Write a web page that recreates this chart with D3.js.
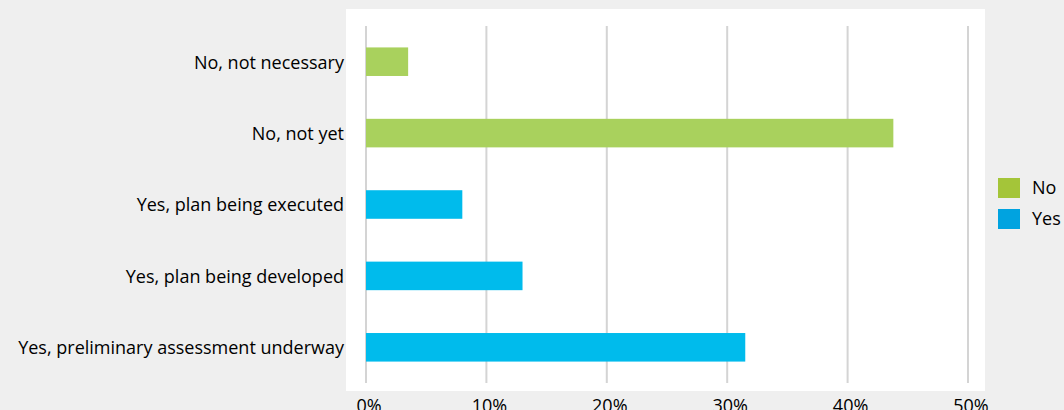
<!DOCTYPE html>
<html>
<head>
<meta charset="utf-8">
<script src="https://cdn.jsdelivr.net/npm/d3@7"></script>
<style>
  html, body { margin: 0; padding: 0; background: #efefef; }
  svg { display: block; }
  text { font-family: "Open Sans", sans-serif; fill: #000; }
</style>
</head>
<body>
<svg id="chart" width="1064" height="410"></svg>
<script>
const categories = [
  "No, not necessary",
  "No, not yet",
  "Yes, plan being executed",
  "Yes, plan being developed",
  "Yes, preliminary assessment underway"
];
const values = [3.5, 43.8, 8.0, 13.0, 31.5];
const groups = ["No", "No", "Yes", "Yes", "Yes"];
const legendLabels = ["No", "Yes"];
const tickValues = [0, 10, 20, 30, 40, 50];

const barColor = { No: "#a9d15d", Yes: "#00bbec" };
const legendColor = { No: "#a4c539", Yes: "#00a3e0" };

const svg = d3.select("#chart");
const W = 1064, H = 410;
const FS = 18;

svg.append("rect").attr("width", W).attr("height", H).attr("fill", "#efefef");
// white plot panel
svg.append("rect").attr("x", 346).attr("y", 9).attr("width", 639).attr("height", 382).attr("fill", "#ffffff");

const x = d3.scaleLinear().domain([0, 50]).range([366, 968]);
const y = d3.scaleBand().domain(categories).range([26, 383]).paddingInner(0.6).paddingOuter(0.3);

// gridlines
svg.append("g").selectAll("line").data(tickValues).join("line")
  .attr("x1", d => x(d)).attr("x2", d => x(d))
  .attr("y1", 26).attr("y2", 383)
  .attr("stroke", "#d4d4d4").attr("stroke-width", 2);

// bars
svg.append("g").selectAll("rect").data(categories).join("rect")
  .attr("x", x(0))
  .attr("y", d => y(d))
  .attr("width", (d, i) => x(values[i]) - x(0))
  .attr("height", y.bandwidth())
  .attr("fill", (d, i) => barColor[groups[i]]);

// category labels
svg.append("g").selectAll("text").data(categories).join("text")
  .attr("x", 344)
  .attr("y", d => y(d) + y.bandwidth() / 2)
  .attr("dy", "0.38em")
  .attr("text-anchor", "end")
  .attr("font-size", FS)
  .text(d => d);

// x tick labels (partly cut by the bottom edge, as in the reference)
svg.append("g").selectAll("text").data(tickValues).join("text")
  .attr("x", d => x(d) + 3)
  .attr("y", 412)
  .attr("text-anchor", "middle")
  .attr("font-size", FS)
  .text(d => d + "%");

// legend
const lg = svg.append("g");
legendLabels.forEach((l, i) => {
  lg.append("rect").attr("x", 998).attr("y", 178 + i * 31).attr("width", 22).attr("height", 20)
    .attr("fill", legendColor[l]);
  lg.append("text").attr("x", 1032).attr("y", 188 + i * 31).attr("dy", "0.36em")
    .attr("font-size", FS).text(l);
});
</script>
</body>
</html>
